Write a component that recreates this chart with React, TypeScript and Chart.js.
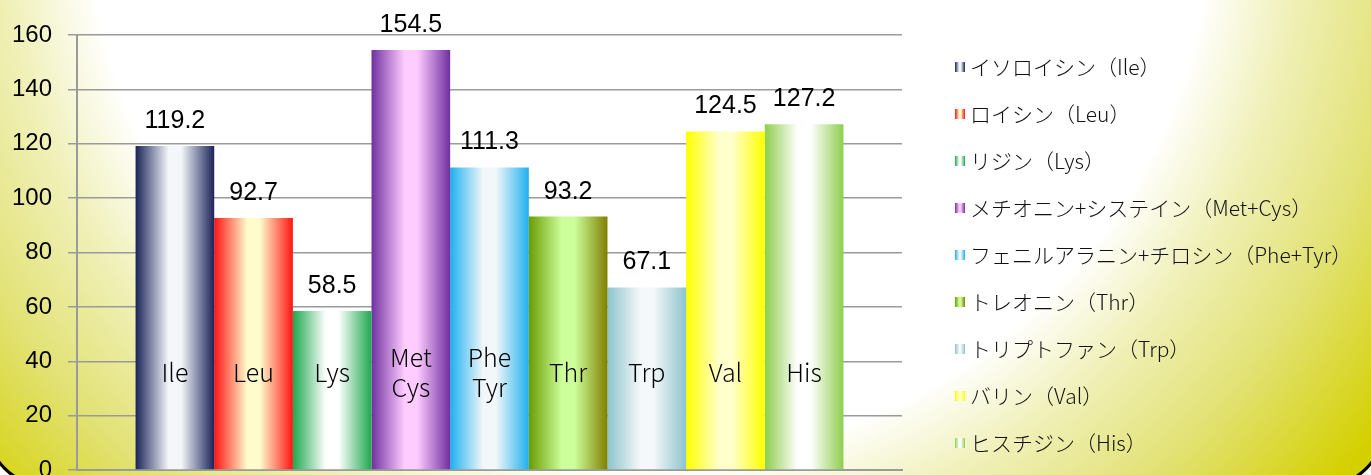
import React, { useEffect, useRef } from 'react';
import { Chart, registerables } from 'chart.js';

Chart.register(...registerables);

// ---- data ----
const seriesNames: string[] = [
  'イソロイシン（Ile）',
  'ロイシン（Leu）',
  'リジン（Lys）',
  'メチオニン+システイン（Met+Cys）',
  'フェニルアラニン+チロシン（Phe+Tyr）',
  'トレオニン（Thr）',
  'トリプトファン（Trp）',
  'バリン（Val）',
  'ヒスチジン（His）',
];
const seriesValues: number[] = [119.2, 92.7, 58.5, 154.5, 111.3, 93.2, 67.1, 124.5, 127.2];
const barLabels: string[][] = [
  ['Ile'], ['Leu'], ['Lys'], ['Met', 'Cys'], ['Phe', 'Tyr'], ['Thr'], ['Trp'], ['Val'], ['His'],
];
const yMin = 0;
const yMax = 160;
const yStep = 20;

// ---- styles ----
// [left edge, center, right edge]
const barGradients: string[][] = [
  ['#1b2458', '#f3f7fa', '#1b2458'],
  ['#ff1414', '#fffccc', '#ff1414'],
  ['#1ea84e', '#ffffff', '#1ea84e'],
  ['#7030a0', '#ffccff', '#7030a0'],
  ['#1fb0ee', '#f2f7fa', '#1fb0ee'],
  ['#6a9c00', '#ccff99', '#808000'],
  ['#8cc4cc', '#f5f8fa', '#8cc4cc'],
  ['#ffff00', '#ffffcc', '#ffff00'],
  ['#8fce4e', '#ffffff', '#8fce4e'],
];

const NUM_FONT = '"Liberation Sans", Arial, sans-serif';
const JP_FONT = '"Noto Sans CJK JP", "Noto Sans", sans-serif';

function makeGradient(ctx: CanvasRenderingContext2D, x0: number, x1: number, stops: string[]) {
  const g = ctx.createLinearGradient(x0, 0, x1, 0);
  g.addColorStop(0, stops[0]);
  g.addColorStop(0.42, stops[1]);
  g.addColorStop(0.58, stops[1]);
  g.addColorStop(1, stops[2]);
  return g;
}

export default function App() {
  const ref = useRef<HTMLCanvasElement>(null);

  useEffect(() => {
    const canvas = ref.current;
    if (!canvas) return;

    const decorPlugin = {
      id: 'decor',
      beforeDatasetsDraw(chart: any) {
        const ctx = chart.ctx as CanvasRenderingContext2D;
        chart.data.datasets.forEach((_ds: any, i: number) => {
          const meta = chart.getDatasetMeta(i);
          meta.data.forEach((bar: any) => {
            const { x, width } = bar.getProps(['x', 'width'], true);
            const g = makeGradient(ctx, x - width / 2, x + width / 2, barGradients[i]);
            bar.options = { ...bar.options, backgroundColor: g };
          });
        });
      },
      afterDatasetsDraw(chart: any) {
        const ctx = chart.ctx as CanvasRenderingContext2D;
        const area = chart.chartArea;
        ctx.save();
        ctx.fillStyle = '#000';
        ctx.textAlign = 'center';
        ctx.textBaseline = 'middle';
        chart.data.datasets.forEach((ds: any, i: number) => {
          const meta = chart.getDatasetMeta(i);
          meta.data.forEach((bar: any, j: number) => {
            const { x, y } = bar.getProps(['x', 'y'], true);
            const v = ds.data[j] as number;
            ctx.font = `25px ${NUM_FONT}`;
            ctx.fillText(v.toFixed(1), x, y - 25);
            const lines = barLabels[i];
            ctx.font = `300 25px ${JP_FONT}`;
            const lh = 30;
            const cy = area.bottom - 98;
            lines.forEach((ln, k) => {
              ctx.fillText(ln, x, cy + (k - (lines.length - 1) / 2) * lh);
            });
          });
        });
        ctx.restore();
      },
      afterDraw(chart: any) {
        const ctx = chart.ctx as CanvasRenderingContext2D;
        const lx = chart.chartArea.right + 53;
        ctx.save();
        ctx.font = `300 21px ${JP_FONT}`;
        ctx.textAlign = 'left';
        ctx.textBaseline = 'middle';
        seriesNames.forEach((name, i) => {
          const y = 67 + i * 47;
          ctx.fillStyle = makeGradient(ctx, lx, lx + 10, barGradients[i]);
          ctx.fillRect(lx, y - 5, 10, 10);
          ctx.fillStyle = '#111';
          ctx.fillText(name, lx + 15, y);
        });
        ctx.restore();
      },
    };

    const chart = new Chart(canvas, {
      type: 'bar',
      data: {
        labels: [''],
        datasets: seriesNames.map((name, i) => ({
          label: name,
          data: [seriesValues[i]],
          backgroundColor: barGradients[i][0],
          borderWidth: 0,
        })),
      },
      options: {
        responsive: false,
        animation: false,
        events: [],
        layout: { padding: { top: 35, right: 469, bottom: 5, left: 0 } },
        datasets: { bar: { categoryPercentage: 0.858, barPercentage: 1 } },
        plugins: {
          legend: { display: false },
          tooltip: { enabled: false },
        },
        scales: {
          x: {
            display: true,
            ticks: { display: false },
            grid: { display: false, drawTicks: false },
            border: { display: true, color: '#9a9a9a', width: 2 },
            afterFit: (s: any) => {
              s.height = 0;
              s.paddingLeft = 0;
              s.paddingRight = 0;
            },
          },
          y: {
            min: yMin,
            max: yMax,
            ticks: {
              stepSize: yStep,
              padding: 16,
              color: '#000',
              font: { family: NUM_FONT, size: 24 },
            },
            grid: { color: '#9a9a9a', lineWidth: 1.5, tickLength: 9, drawTicks: true },
            border: { display: true, color: '#9a9a9a', width: 2 },
            afterFit: (s: any) => {
              s.width = 77;
              s.paddingTop = 0;
              s.paddingBottom = 0;
            },
          },
        },
      },
      plugins: [decorPlugin],
    } as any);

    return () => {
      chart.destroy();
    };
  }, []);

  return (
    <div
      style={{
        position: 'fixed',
        left: 0,
        top: 0,
        width: 1371,
        height: 475,
        overflow: 'hidden',
        background:
          'radial-gradient(circle 900px at 650px -100px, #ffffff 0px, #ffffff 560px, #f0f0b8 650px, #e2e276 760px, #d4d000 900px)',
      }}
    >
      <canvas ref={ref} width={1371} height={475} style={{ display: 'block', width: 1371, height: 475 }} />
      <div
        style={{
          position: 'absolute',
          left: -14,
          top: -100,
          width: 1399,
          height: 587,
          boxSizing: 'border-box',
          border: '3px solid #000',
          borderRadius: 60,
          boxShadow: '0 0 0 80px #fff',
          pointerEvents: 'none',
        }}
      />
    </div>
  );
}
